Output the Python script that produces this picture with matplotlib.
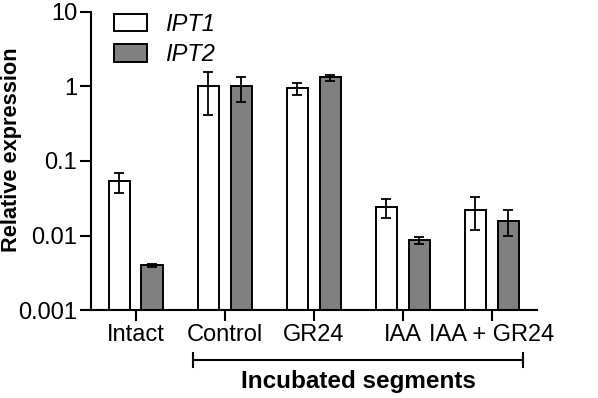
import matplotlib.pyplot as plt
import matplotlib.transforms as mtransforms
import numpy as np

plt.rcParams['font.family'] = ['Liberation Sans', 'DejaVu Sans']

groups = ["Intact", "Control", "GR24", "IAA", "IAA + GR24"]
ipt1 = [0.054, 1.0, 0.94, 0.0238, 0.0223]
ipt1_lo = [0.037, 0.42, 0.78, 0.017, 0.0117]
ipt1_hi = [0.069, 1.55, 1.10, 0.031, 0.033]
ipt2 = [0.0040, 1.0, 1.32, 0.0088, 0.0159]
ipt2_lo = [0.0038, 0.61, 1.20, 0.0078, 0.0100]
ipt2_hi = [0.0042, 1.36, 1.43, 0.0097, 0.0223]

fig = plt.figure(figsize=(5.98, 3.98), dpi=100)
ax = fig.add_axes([0.152, 0.221, 0.746, 0.749])

x = np.arange(len(groups))
w = 0.245
off = 0.185

def errs(v, lo, hi):
    v = np.array(v)
    return [v - np.array(lo), np.array(hi) - v]

ax.bar(x - off, np.array(ipt1) - 0.001, w, color="white", edgecolor="black",
       linewidth=1.4, label="IPT1", bottom=0.001)
ax.bar(x + off, np.array(ipt2) - 0.001, w, color="#808080", edgecolor="black",
       linewidth=1.4, label="IPT2", bottom=0.001)
ax.errorbar(x - off, ipt1, yerr=errs(ipt1, ipt1_lo, ipt1_hi), fmt="none",
            ecolor="black", elinewidth=1.3, capsize=3.8, capthick=1.3)
ax.errorbar(x + off, ipt2, yerr=errs(ipt2, ipt2_lo, ipt2_hi), fmt="none",
            ecolor="black", elinewidth=1.3, capsize=3.8, capthick=1.3)

ax.set_yscale("log")
ax.set_ylim(0.001, 10)
ax.set_xlim(-0.506, 4.506)
ax.set_yticks([0.001, 0.01, 0.1, 1, 10])
ax.set_yticklabels(["0.001", "0.01", "0.1", "1", "10"])
ax.minorticks_off()
ax.set_xticks(x)
ax.set_xticklabels(groups)
ax.tick_params(labelsize=17, width=1.5, length=8, direction="out", pad=2)
for s in ["top", "right"]:
    ax.spines[s].set_visible(False)
for s in ["left", "bottom"]:
    ax.spines[s].set_linewidth(1.5)
ax.set_ylabel("Relative expression", fontsize=15.7, fontweight="bold", va="center")
ax.yaxis.set_label_coords(-0.179, 0.537)

leg = ax.legend(loc="upper left", bbox_to_anchor=(0.01, 1.06), frameon=False,
                fontsize=17, handlelength=1.4, handleheight=0.76,
                labelspacing=0.3, handletextpad=0.76, borderpad=0.3)
for t in leg.get_texts():
    t.set_fontstyle("italic")

# bracket under incubated segments
tr = mtransforms.blended_transform_factory(ax.transData, ax.transAxes)
yb = -0.168
ax.plot([0.64, 4.35], [yb, yb], color="black", lw=1.5, transform=tr, clip_on=False)
for xe in [0.64, 4.35]:
    ax.plot([xe, xe], [yb - 0.023, yb + 0.023], color="black", lw=1.5,
            transform=tr, clip_on=False)
ax.text(2.495, -0.24, "Incubated segments", transform=tr, ha="center",
        va="center", fontsize=17.5, fontweight="bold")

fig.savefig("out.png", dpi=100)
